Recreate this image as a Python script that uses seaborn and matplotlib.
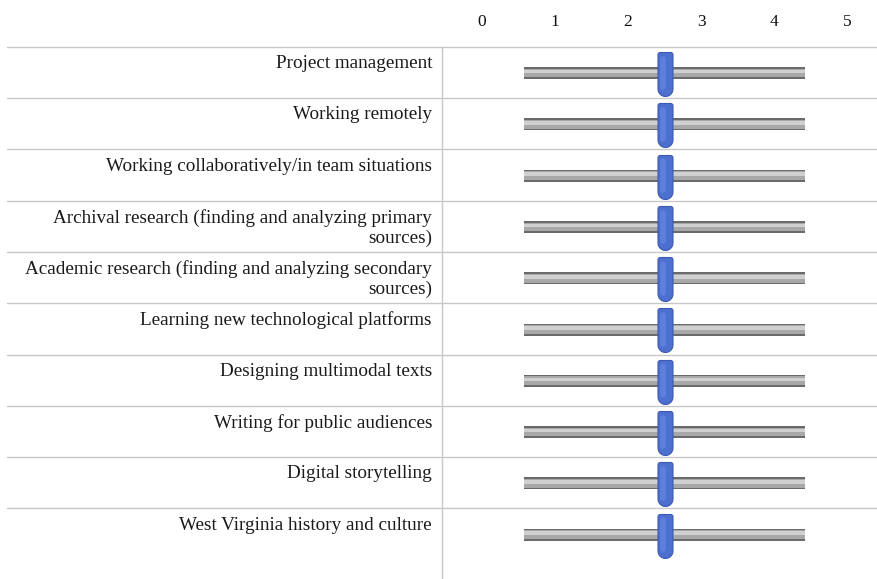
import numpy as np
import matplotlib
matplotlib.use("Agg")
import matplotlib.pyplot as plt
from matplotlib.path import Path
import seaborn as sns
import pandas as pd

# ---------------- data ----------------
skills = [
    "Project management",
    "Working remotely",
    "Working collaboratively/in team situations",
    "Archival research (finding and analyzing primary\nsources)",
    "Academic research (finding and analyzing secondary\nsources)",
    "Learning new technological platforms",
    "Designing multimodal texts",
    "Writing for public audiences",
    "Digital storytelling",
    "West Virginia history and culture",
]
range_low = [0.58] * 10
range_high = [4.42] * 10
mean_score = [2.5] * 10
scale_ticks = [0, 1, 2, 3, 4, 5]

# ---------------- style ----------------
sns.set_theme(style="white")
plt.rcParams["font.family"] = ["Liberation Serif", "DejaVu Serif"]

W, H = 878, 579
fig = plt.figure(figsize=(W / 100, H / 100), dpi=100)
ax = fig.add_axes([0, 0, 1, 1])

# mapping of the layout (pixel reference)
px0, px_per_unit = 481.7, 73.12     # x: data 0 at px 481.7
row0, row_h = 46.7, 51.3            # y: rows
ax.set_xlim((0 - px0) / px_per_unit, (W - px0) / px_per_unit)
ax.set_ylim((H - row0) / row_h, (0 - row0) / row_h)
ax.axis("off")

n = len(skills)
rows = np.arange(n)
df = pd.DataFrame({"skill": skills, "low": range_low, "high": range_high,
                   "mean": mean_score, "row": rows})

# table grid
grid_c = "#c8c8c8"
xl = (7 - px0) / px_per_unit
xr = (W - px0) / px_per_unit
for r in rows:
    ax.plot([xl, xr], [r, r], color=grid_c, lw=1.0, zorder=1)
xv = (441.7 - px0) / px_per_unit
ax.plot([xv, xv], [0, (H - row0) / row_h], color=grid_c, lw=1.0, zorder=1)

# scale tick labels at top
for t in scale_ticks:
    ax.text(t, (22 - row0) / row_h, str(t), ha="center", va="center",
            fontsize=12.5, color="#111111")

# labels
xlab = (432 - px0) / px_per_unit
for r, s in zip(rows, skills):
    ax.text(xlab, r + 0.16, s, ha="right", va="top", fontsize=13.8,
            color="#1a1a1a", linespacing=1.22)

# slider tracks (gradient look by layering)
yc = df["row"] + 0.513
bh = 12 / row_h
span = df["high"] - df["low"]
ax.barh(yc, span, left=df["low"], height=bh,
        color="#6a6a6a", edgecolor="none", linewidth=0, zorder=2)
ax.barh(yc, span, left=df["low"], height=bh * 0.72,
        color="#a8a8a8", edgecolor="none", linewidth=0, zorder=3)
ax.barh(yc - bh * 0.12, span, left=df["low"], height=bh * 0.3,
        color="#d0d0d0", edgecolor="none", linewidth=0, zorder=4)

# slider handle marker (capsule shape)
w = 15 / 44
rb = w / 2
rt = 0.05
pts = []
for a in np.linspace(np.pi, 2 * np.pi, 20):
    pts.append((rb * np.cos(a), -0.5 + rb + rb * np.sin(a)))
for a in np.linspace(0, np.pi / 2, 6):
    pts.append((w / 2 - rt + rt * np.cos(a), 0.5 - rt + rt * np.sin(a)))
for a in np.linspace(np.pi / 2, np.pi, 6):
    pts.append((-w / 2 + rt + rt * np.cos(a), 0.5 - rt + rt * np.sin(a)))
pts.append(pts[0])
capsule = Path(pts, closed=True)

df["hy"] = df["row"] + 0.532
sns.scatterplot(data=df, x="mean", y="hy", marker=capsule, s=(44 * 0.72) ** 2,
                color="#4c6fd0", edgecolor="#3d5bb2", linewidth=0.8,
                zorder=6, ax=ax, legend=False)
# soft highlight inside the handle
ax.plot(np.repeat(df["mean"].to_numpy()[:, None] - 0.02, 2, axis=1).T,
        np.stack([df["hy"] - 0.30, df["hy"] + 0.26]),
        color="#6385e0", lw=4.0, solid_capstyle="round", alpha=0.8, zorder=7)

fig.savefig("out.png", dpi=100)
